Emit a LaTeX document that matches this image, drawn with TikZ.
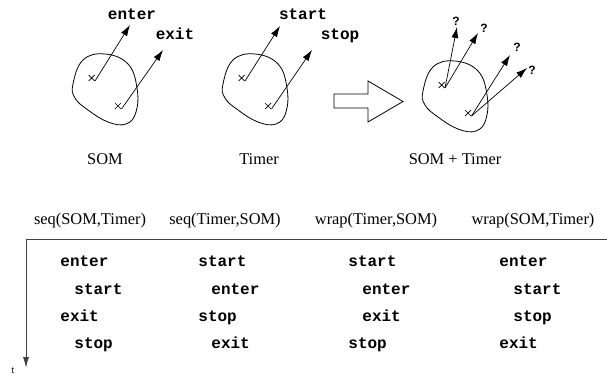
\documentclass[tikz,border=0pt]{standalone}
\usepackage{fontspec}
\setmainfont{Liberation Serif}
\newfontfamily\cour{Liberation Mono}
\newfontfamily\hsans{Liberation Sans}
\usetikzlibrary{arrows.meta}
\begin{document}
\begin{tikzpicture}[x={(1pt,0)},y={(0,-1pt)},
  line width=0.8pt,
  lbl/.style={inner sep=0pt,font=\fontsize{16.4}{18}\selectfont},
  code/.style={inner sep=0pt,anchor=base,font=\cour\bfseries\fontsize{16}{18}\selectfont},
  row/.style={code,anchor=base west},
  qm/.style={inner sep=0pt,font=\hsans\bfseries\fontsize{12}{14}\selectfont},
  evarrow/.style={-{Latex[length=11pt,width=7pt]},line width=0.7pt},
  blob/.style={line width=0.8pt},
  xmark/.style={line width=0.7pt}]
\useasboundingbox (0,0) rectangle (607,375);
% blobs
\foreach \dx/\dy/\nm in {0/0/a,150/0/b,350/7/c}{
  \begin{scope}[shift={(\dx,\dy)}]
  \draw[blob] plot[smooth cycle,tension=0.7] coordinates
    {(73,84) (83,60) (105,54) (128,64) (137,88) (136,112) (126,124) (108,122) (88,110) (75,98)};
  \coordinate (\nm1) at (91.7,78);
  \coordinate (\nm2) at (118,106);
  \draw[xmark] (88.7,75) -- (94.7,81) (88.7,81) -- (94.7,75);
  \draw[xmark] (115,103) -- (121,109) (115,109) -- (121,103);
  \coordinate (\nm1s) at (95,81);
  \coordinate (\nm2s) at (121.5,109);
  \end{scope}
}
% SOM
\coordinate (ae) at (130,25);
\coordinate (ax) at (163,50);
\draw[evarrow] (a1s) -- (ae);
\draw[evarrow] (a2s) -- (ax);
\node[code] (enterA) at (132,19) {enter};
\node[code] (exitA) at (175,39) {exit};
\node[lbl] (som) at (105,159) {SOM};
% Timer
\coordinate (bs) at (280,26);
\coordinate (bt) at (312,50);
\draw[evarrow] (b1s) -- (bs);
\draw[evarrow] (b2s) -- (bt);
\node[code] (startB) at (303,19) {start};
\node[code] (stopB) at (340,39) {stop};
\node[lbl] (timer) at (259,159) {Timer};
% big arrow
\draw[line width=0.8pt] (334,94) -- (368,94) -- (368,81) -- (403,101.5) -- (368,122) -- (368,108) -- (334,108) -- cycle;
% SOM+Timer
\coordinate (c1a) at (457,27);
\coordinate (c1b) at (478,33);
\coordinate (c2a) at (510,55);
\coordinate (c2b) at (527,68);
\draw[evarrow] (c1s) -- (c1a);
\draw[evarrow] (c1s) -- (c1b);
\draw[evarrow] (c2s) -- (c2a);
\draw[evarrow] (c2s) -- (c2b);
\node[qm] (q1) at (456,21) {?};
\node[qm] (q2) at (484,28) {?};
\node[qm] (q3) at (517,47) {?};
\node[qm] (q4) at (532,70) {?};
\node[lbl] (somtimer) at (455,159) {SOM + Timer};
% headers
\node[lbl] (h1) at (90,221) {seq(SOM,Timer)};
\node[lbl] (h2) at (225,221) {seq(Timer,SOM)};
\node[lbl] (h3) at (376,221) {wrap(Timer,SOM)};
\node[lbl] (h4) at (533,221) {wrap(SOM,Timer)};
% time axis
\coordinate (tr) at (607,239);
\coordinate (tl) at (26,239);
\coordinate (tb) at (26,368);
\draw[line width=1pt,black!75] (tr) -- (tl);
\draw[line width=1pt,black!75,-{Latex[length=11pt,width=6pt]}] (tl) -- (tb);
\node[inner sep=0pt,font=\hsans\fontsize{9}{10}\selectfont] (t) at (13,371) {t};
% column 1
\node[row] (c1r1) at (60,266) {enter};
\node[row] (c1r2) at (74,294) {start};
\node[row] (c1r3) at (60,321) {exit};
\node[row] (c1r4) at (74,348) {stop};
% column 2
\node[row] (c2r1) at (198,266) {start};
\node[row] (c2r2) at (211,294) {enter};
\node[row] (c2r3) at (198,321) {stop};
\node[row] (c2r4) at (211,348) {exit};
% column 3
\node[row] (c3r1) at (348,266) {start};
\node[row] (c3r2) at (362,294) {enter};
\node[row] (c3r3) at (362,321) {exit};
\node[row] (c3r4) at (348,348) {stop};
% column 4
\node[row] (c4r1) at (499,266) {enter};
\node[row] (c4r2) at (513,294) {start};
\node[row] (c4r3) at (513,321) {stop};
\node[row] (c4r4) at (499,348) {exit};
\end{tikzpicture}
\end{document}
